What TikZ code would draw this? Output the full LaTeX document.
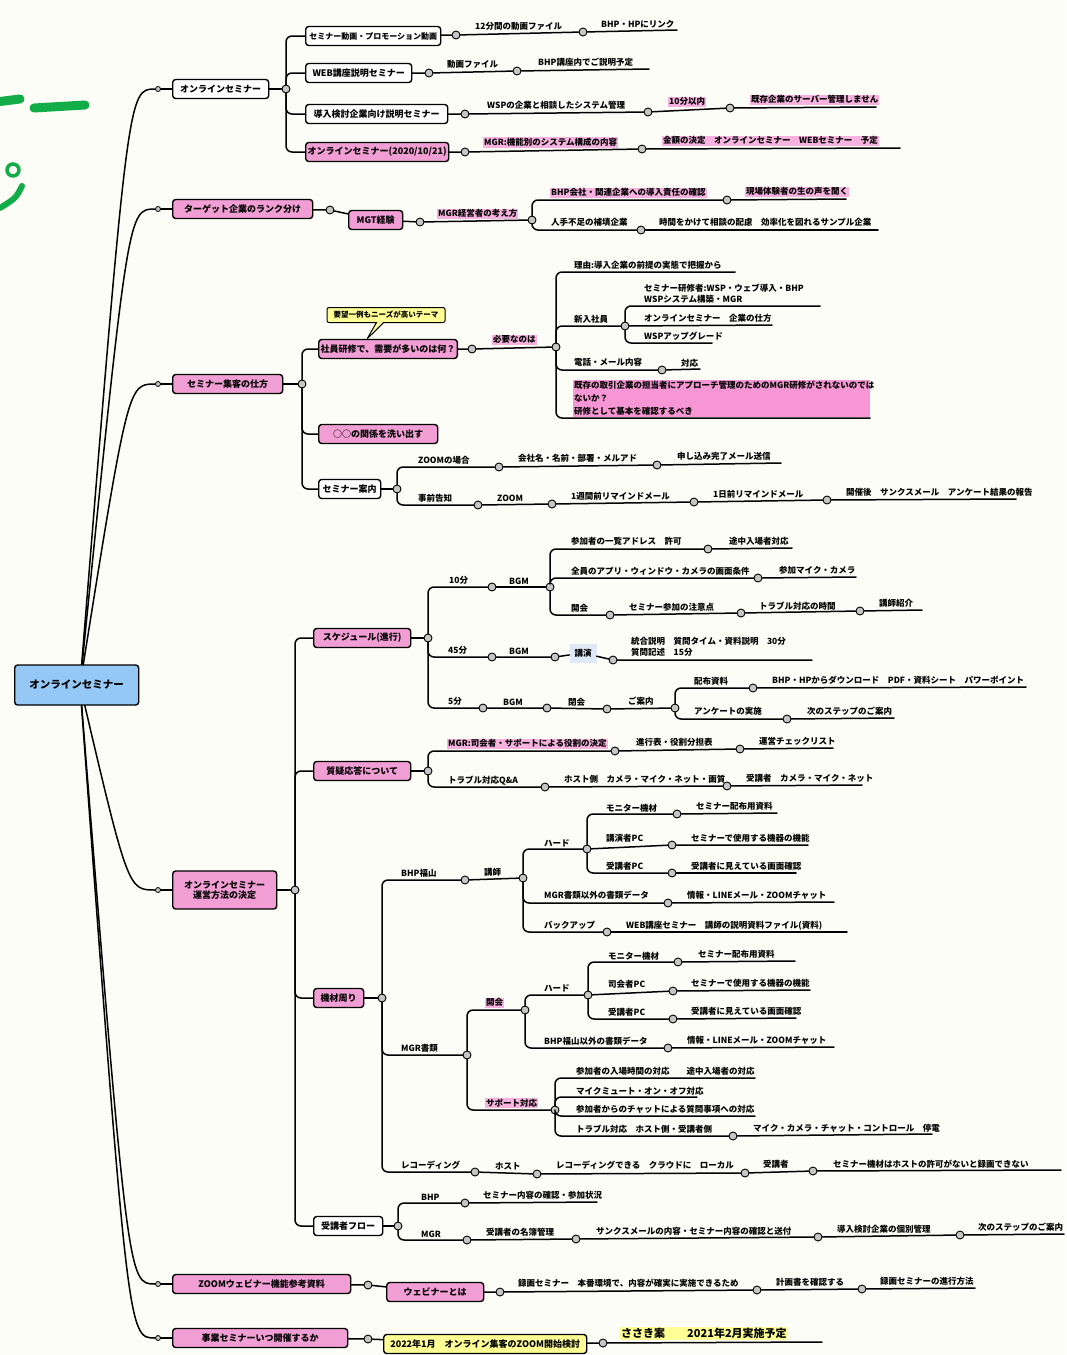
\documentclass[tikz,border=0pt]{standalone}
\usepackage{fontspec}
\setmainfont{Noto Sans CJK JP}
\usetikzlibrary{shapes.callouts}
\definecolor{paper}{RGB}{253,253,247}
\definecolor{mmpink}{RGB}{240,158,212}
\definecolor{hlpink}{RGB}{247,178,224}
\definecolor{blockpink}{RGB}{246,150,212}
\definecolor{mmblue}{RGB}{150,200,245}
\definecolor{lectblue}{RGB}{222,232,246}
\definecolor{mmyellow}{RGB}{255,255,150}
\definecolor{mmgreen}{RGB}{18,172,72}
\tikzset{
  conn/.style={line width=1.5pt, line cap=round, line join=round},
  elbow/.style={conn, rounded corners=6pt},
  mmbox/.style={draw, line width=1.4pt, rounded corners=3pt, anchor=west, minimum height=19pt, inner sep=2pt, font=\bfseries\fontsize{9}{10.5}\selectfont},
  pinkbox/.style={mmbox, fill=mmpink},
  whitebox/.style={mmbox, fill=white},
  dot/.style={circle, draw, fill=gray!45, line width=0.9pt, inner sep=0pt, minimum size=8pt},
  stub/.style={circle, draw, fill=gray!45, line width=0.8pt, inner sep=0pt, minimum size=5pt},
  leaf/.style={anchor=south west, inner sep=1pt, font=\bfseries\fontsize{8.5}{10}\selectfont},
  hl/.style={leaf, fill=hlpink}
}
\begin{document}
\begin{tikzpicture}[x=1pt, y=-1pt]
 \useasboundingbox (0,0) rectangle (1066,1355);
 \fill[paper] (0,0) rectangle (1066,1355);
 \draw[mmgreen, line width=9pt, line cap=round] (-4,102) -- (20,99);
 \draw[mmgreen, line width=9pt, line cap=round] (34,108) -- (85,105);
 \draw[mmgreen, line width=3.5pt] (13,170) circle (6pt);
 \draw[mmgreen, line width=6pt, line cap=round] (22,186) .. controls (16,198) .. (0,208);

 \coordinate (hub) at (80,685);
 \node[whitebox, minimum width=96pt] (onl) at (172,89) {オンラインセミナー};
 \node[pinkbox, minimum width=140pt] (tgt) at (172,209) {ターゲット企業のランク分け};
 \node[pinkbox, minimum width=110pt] (shk) at (172,384) {セミナー集客の仕方};
 \node[pinkbox, minimum width=104pt, minimum height=38pt, align=center] (unei) at (172,890) {オンラインセミナー\\運営方法の決定};
 \node[pinkbox, minimum width=178pt] (zoom) at (172,1284) {ZOOMウェビナー機能参考資料};
 \node[pinkbox, minimum width=175pt] (kaisai) at (172,1338) {事業セミナーいつ開催するか};
 \foreach \n/\y in {onl/89, tgt/209, shk/384, unei/890, zoom/1284, kaisai/1338} {
   \node[stub] (s\n) at (158,\y) {};
   \draw[conn] (hub) .. controls (128,\y) .. (s\n);
   \draw[conn] (s\n) -- (\n);
 }
 \node[mmbox, fill=mmblue, minimum width=124pt, minimum height=40pt, font=\bfseries\fontsize{10.5}{12}\selectfont] (root) at (14,685) {オンラインセミナー};

 \node[dot] (a0) at (286,89) {};
 \draw[conn] (onl) -- (a0);
 \node[whitebox, minimum width=135pt, font=\bfseries\fontsize{8}{9.5}\selectfont] (a1) at (305,36) {セミナー動画・プロモーション動画};
 \node[whitebox, minimum width=106pt] (a2) at (305,73) {WEB講座説明セミナー};
 \node[whitebox, minimum width=142pt] (a3) at (305,114) {導入検討企業向け説明セミナー};
 \node[pinkbox, minimum width=143pt] (a4) at (305,152) {オンラインセミナー(2020/10/21)};
 \foreach \n in {a1,a2,a3,a4} \draw[elbow] (a0) |- (\n);
 \node[dot] (a1d1) at (456,35) {};
 \node[dot] (a1d2) at (583,32) {};
 \coordinate (a1e) at (677,30);
 \draw[conn] (a1) -- (a1d1) -- (a1d2) -- (a1e);
 \node[leaf] (a1t1) at (474,32) {12分間の動画ファイル};
 \node[leaf] (a1t2) at (600,29) {BHP・HPにリンク};
 \node[dot] (a2d1) at (429,73) {};
 \node[dot] (a2d2) at (517,71) {};
 \coordinate (a2e) at (649,69);
 \draw[conn] (a2) -- (a2d1) -- (a2d2) -- (a2e);
 \node[leaf] (a2t1) at (446,70) {動画ファイル};
 \node[leaf] (a2t2) at (537,68) {BHP講座内でご説明予定};
 \node[dot] (a3d1) at (465,114) {};
 \node[dot] (a3d2) at (648,112) {};
 \node[dot] (a3d3) at (730,108) {};
 \coordinate (a3e) at (876,107);
 \draw[conn] (a3) -- (a3d1) -- (a3d2) -- (a3d3) -- (a3e);
 \node[leaf] (a3t1) at (486,111) {WSPの企業と相談したシステム管理};
 \node[hl] (a3t2) at (668,107) {10分以内};
 \node[hl] (a3t3) at (750,105) {既存企業のサーバー管理しません};
 \node[dot] (a4d1) at (465,152) {};
 \node[dot] (a4d2) at (642,149) {};
 \coordinate (a4e) at (900,148);
 \draw[conn] (a4) -- (a4d1) -- (a4d2) -- (a4e);
 \node[hl] (a4t1) at (483,148) {MGR:機能別のシステム構成の内容};
 \node[hl] (a4t2) at (662,146) {金額の決定　オンラインセミナー　WEBセミナー　予定};

 \node[dot] (b0) at (330,210) {};
 \node[pinkbox, minimum width=54pt] (mgt) at (348,220) {MGT経験};
 \node[dot] (b1) at (420,222) {};
 \node[dot] (b2) at (532,220) {};
 \draw[conn] (tgt) -- (b0) -- (mgt) -- (b1) -- (b2);
 \node[hl] (b1t) at (437,219) {MGR経営者の考え方};
 \node[dot] (b3) at (727,200) {};
 \node[dot] (b4) at (641,230) {};
 \coordinate (b3e) at (846,199);
 \coordinate (b4e) at (878,230);
 \draw[elbow] (b2) |- (b3);
 \draw[conn] (b3) -- (b3e);
 \draw[elbow] (b2) |- (b4);
 \draw[conn] (b4) -- (b4e);
 \node[hl] (b3t1) at (550,198) {BHP会社・関連企業への導入責任の確認};
 \node[hl] (b3t2) at (745,197) {現場体験者の生の声を聞く};
 \node[leaf] (b4t1) at (550,228) {人手不足の補填企業};
 \node[leaf] (b4t2) at (658,228) {時間をかけて相談の配慮　効率化を図れるサンプル企業};

 \node[dot] (c0) at (302,384) {};
 \draw[conn] (shk) -- (c0);
 \node[pinkbox, minimum width=137pt] (c1) at (318,349) {社員研修で、需要が多いのは何？};
 \node[rectangle callout, draw, fill=mmyellow, line width=1pt, rounded corners=2pt, minimum width=118pt, minimum height=15pt, inner sep=1.5pt, font=\bfseries\fontsize{7.5}{9}\selectfont, callout absolute pointer={(367,339)}] (c1n) at (386,315) {要望一例もニーズが高いテーマ};
 \node[pinkbox, minimum width=119pt] (c2) at (318,434) {○○の関係を洗い出す};
 \node[whitebox, minimum width=62pt] (c3) at (318,489) {セミナー案内};
 \foreach \n in {c1,c2,c3} \draw[elbow] (c0) |- (\n);
 \node[dot] (c1d) at (472,349) {};
 \node[dot] (c1j) at (556,347) {};
 \draw[conn] (c1) -- (c1d) -- (c1j);
 \node[hl] (c1t) at (492,345) {必要なのは};
 \coordinate (r1e) at (735,272);
 \node[dot] (r2j) at (625,326) {};
 \node[dot] (r3d) at (662,370) {};
 \coordinate (r3e) at (700,369);
 \coordinate (r4e) at (870,418);
 \draw[elbow] (c1j) |- (r1e);
 \draw[elbow] (c1j) |- (r2j);
 \draw[elbow] (c1j) |- (r3d);
 \draw[conn] (r3d) -- (r3e);
 \draw[elbow] (c1j) |- (r4e);
 \node[leaf] (r1t) at (573,271) {理由:導入企業の前提の実態で把握から};
 \node[leaf] (r2t) at (573,325) {新入社員};
 \node[leaf] (r3t1) at (573,368) {電話・メール内容};
 \node[leaf] (r3t2) at (680,368) {対応};
 \node[leaf, fill=blockpink, text width=295pt, align=left, font=\bfseries\fontsize{8.5}{13}\selectfont] (r4t) at (573,417) {既存の取引企業の担当者にアプローチ管理のためのMGR研修がされないのでは\\ないか？\\研修として基本を確認するべき};
 \coordinate (s1e) at (820,306);
 \coordinate (s2e) at (772,325);
 \coordinate (s3e) at (712,343);
 \draw[elbow] (r2j) |- (s1e);
 \draw[conn] (r2j) -- (s2e);
 \draw[elbow] (r2j) |- (s3e);
 \node[leaf, align=left, font=\bfseries\fontsize{8.5}{11}\selectfont] (s1t) at (643,305) {セミナー研修者:WSP・ウェブ導入・BHP\\ WSPシステム構築・MGR};
 \node[leaf] (s2t) at (643,324) {オンラインセミナー　企業の仕方};
 \node[leaf] (s3t) at (643,342) {WSPアップグレード};
 \node[dot] (c3j) at (397,489) {};
 \draw[conn] (c3) -- (c3j);
 \node[dot] (z1) at (499,467) {};
 \node[dot] (z2) at (657,465) {};
 \coordinate (z3) at (781,463);
 \draw[elbow] (c3j) |- (z1);
 \draw[conn] (z1) -- (z2) -- (z3);
 \node[leaf] (z1t) at (417,466) {ZOOMの場合};
 \node[leaf] (z2t) at (517,464) {会社名・名前・部署・メルアド};
 \node[leaf] (z3t) at (676,462) {申し込み完了メール送信};
 \node[dot] (m1) at (478,505) {};
 \node[dot] (m2) at (552,504) {};
 \node[dot] (m3) at (694,502) {};
 \node[dot] (m4) at (827,500) {};
 \coordinate (m5) at (1016,499);
 \draw[elbow] (c3j) |- (m1);
 \draw[conn] (m1) -- (m2) -- (m3) -- (m4) -- (m5);
 \node[leaf] (m1t) at (417,504) {事前告知};
 \node[leaf] (m2t) at (496,503) {ZOOM};
 \node[leaf] (m3t) at (570,501) {1週間前リマインドメール};
 \node[leaf] (m4t) at (712,499) {1日前リマインドメール};
 \node[leaf] (m5t) at (845,498) {開催後　サンクスメール　アンケート結果の報告};

 \node[dot] (d0) at (295,890) {};
 \draw[conn] (unei) -- (d0);
 \node[pinkbox, minimum width=97pt] (sch) at (313,638) {スケジュール(進行)};
 \node[pinkbox, minimum width=97pt] (qa) at (313,771) {質疑応答について};
 \node[pinkbox, minimum width=50pt] (kizai) at (313,998) {機材周り};
 \node[whitebox, minimum width=69pt] (flow) at (313,1226) {受講者フロー};
 \foreach \n in {sch,qa,kizai,flow} \draw[elbow] (d0) |- (\n);

 \node[dot] (k0) at (428,638) {};
 \draw[conn] (sch) -- (k0);
 \node[dot] (k1) at (492,587) {};
 \node[dot] (k2) at (550,587) {};
 \draw[elbow] (k0) |- (k1);
 \draw[conn] (k1) -- (k2);
 \node[leaf] (k1t) at (448,586) {10分};
 \node[leaf] (k2t) at (508,586) {BGM};
 \node[dot] (k3) at (708,549) {};
 \coordinate (k3e) at (792,548);
 \draw[elbow] (k2) |- (k3);
 \draw[conn] (k3) -- (k3e);
 \node[leaf] (k3t1) at (570,547) {参加者の一覧アドレス　許可};
 \node[leaf] (k3t2) at (728,547) {途中入場者対応};
 \node[dot] (k4) at (758,578) {};
 \coordinate (k4e) at (856,577);
 \draw[elbow] (k2) |- (k4);
 \draw[conn] (k4) -- (k4e);
 \node[leaf] (k4t1) at (570,577) {全員のアプリ・ウィンドウ・カメラの画面条件};
 \node[leaf] (k4t2) at (778,576) {参加マイク・カメラ};
 \node[dot] (k5) at (610,615) {};
 \node[dot] (k6) at (741,613) {};
 \node[dot] (k7) at (860,611) {};
 \coordinate (k7e) at (922,610);
 \draw[elbow] (k2) |- (k5);
 \draw[conn] (k5) -- (k6) -- (k7) -- (k7e);
 \node[leaf] (k5t) at (570,614) {開会};
 \node[leaf] (k6t) at (628,613) {セミナー参加の注意点};
 \node[leaf] (k7t1) at (758,611) {トラブル対応の時間};
 \node[leaf] (k7t2) at (878,609) {講師紹介};
 \node[dot] (k8) at (492,657) {};
 \node[dot] (k9) at (555,657) {};
 \node[fill=lectblue, inner sep=2pt, minimum width=27pt, minimum height=19pt, font=\bfseries\fontsize{8.5}{10}\selectfont] (koen) at (583,653) {講演};
 \node[dot] (k10) at (613,660) {};
 \coordinate (k10e) at (812,660);
 \draw[elbow] (k0) |- (k8);
 \draw[conn] (k8) -- (k9) -- (koen) -- (k10) -- (k10e);
 \node[leaf] (k8t) at (447,656) {45分};
 \node[leaf] (k9t) at (508,656) {BGM};
 \node[leaf, align=left, font=\bfseries\fontsize{8.5}{11}\selectfont] (k10t) at (630,658) {統合説明　質問タイム・資料説明　30分\\質問記述　15分};
 \node[dot] (k11) at (483,708) {};
 \node[dot] (k12) at (547,708) {};
 \node[dot] (k13) at (607,709) {};
 \node[dot] (k14) at (675,708) {};
 \draw[elbow] (k0) |- (k11);
 \draw[conn] (k11) -- (k12) -- (k13) -- (k14);
 \node[leaf] (k11t) at (447,707) {5分};
 \node[leaf] (k12t) at (502,707) {BGM};
 \node[leaf] (k13t) at (567,707) {閉会};
 \node[leaf] (k14t) at (627,707) {ご案内};
 \node[dot] (k15) at (753,688) {};
 \coordinate (k15e) at (1026,687);
 \node[dot] (k16) at (787,719) {};
 \coordinate (k16e) at (894,718);
 \draw[elbow] (k14) |- (k15);
 \draw[conn] (k15) -- (k15e);
 \draw[elbow] (k14) |- (k16);
 \draw[conn] (k16) -- (k16e);
 \node[leaf] (k15t1) at (693,687) {配布資料};
 \node[leaf] (k15t2) at (771,686) {BHP・HPからダウンロード　PDF・資料シート　パワーポイント};
 \node[leaf] (k16t1) at (693,717) {アンケートの実施};
 \node[leaf] (k16t2) at (806,717) {次のステップのご案内};

 \node[dot] (q0) at (428,771) {};
 \draw[conn] (qa) -- (q0);
 \node[dot] (q1) at (615,751) {};
 \node[dot] (q2) at (740,749) {};
 \coordinate (q2e) at (833,748);
 \draw[elbow] (q0) |- (q1);
 \draw[conn] (q1) -- (q2) -- (q2e);
 \node[hl] (q1t) at (447,749) {MGR:司会者・サポートによる役割の決定};
 \node[leaf] (q2t1) at (635,748) {進行表・役割分担表};
 \node[leaf] (q2t2) at (758,747) {運営チェックリスト};
 \node[dot] (q3) at (545,787) {};
 \node[dot] (q4) at (727,786) {};
 \coordinate (q4e) at (862,785);
 \draw[elbow] (q0) |- (q3);
 \draw[conn] (q3) -- (q4) -- (q4e);
 \node[leaf] (q3t) at (447,786) {トラブル対応Q\&A};
 \node[leaf] (q4t1) at (563,785) {ホスト側　カメラ・マイク・ネット・画質};
 \node[leaf] (q4t2) at (745,784) {受講者　カメラ・マイク・ネット};

 \node[dot] (g0) at (382,998) {};
 \draw[conn] (kizai) -- (g0);
 \node[dot] (g1) at (465,880) {};
 \node[dot] (g2) at (523,878) {};
 \draw[elbow] (g0) |- (g1);
 \draw[conn] (g1) -- (g2);
 \node[leaf] (g1t) at (400,879) {BHP福山};
 \node[leaf] (g2t) at (483,878) {講師};
 \node[dot] (g3) at (587,849) {};
 \draw[elbow] (g2) |- (g3);
 \node[leaf] (g3t) at (543,848) {ハード};
 \node[dot] (g4) at (677,814) {};
 \coordinate (g4e) at (777,813);
 \node[dot] (g5) at (672,845) {};
 \coordinate (g5e) at (808,845);
 \node[dot] (g6) at (672,873) {};
 \coordinate (g6e) at (796,873);
 \draw[elbow] (g3) |- (g4);
 \draw[conn] (g4) -- (g4e);
 \draw[conn] (g3) -- (g5) -- (g5e);
 \draw[elbow] (g3) |- (g6);
 \draw[conn] (g6) -- (g6e);
 \node[leaf] (g4t1) at (605,813) {モニター機材};
 \node[leaf] (g4t2) at (695,812) {セミナー配布用資料};
 \node[leaf] (g5t1) at (605,844) {講演者PC};
 \node[leaf] (g5t2) at (690,844) {セミナーで使用する機器の機能};
 \node[leaf] (g6t1) at (605,872) {受講者PC};
 \node[leaf] (g6t2) at (690,872) {受講者に見えている画面確認};
 \node[dot] (g7) at (668,903) {};
 \coordinate (g7e) at (834,902);
 \draw[elbow] (g2) |- (g7);
 \draw[conn] (g7) -- (g7e);
 \node[leaf] (g7t1) at (543,901) {MGR書類以外の書類データ};
 \node[leaf] (g7t2) at (686,901) {情報・LINEメール・ZOOMチャット};
 \node[dot] (g8) at (607,932) {};
 \coordinate (g8e) at (847,932);
 \draw[elbow] (g2) |- (g8);
 \draw[conn] (g8) -- (g8e);
 \node[leaf] (g8t1) at (543,931) {バックアップ};
 \node[leaf] (g8t2) at (625,931) {WEB講座セミナー　講師の説明資料ファイル(資料)};

 \node[dot] (h0) at (467,1055) {};
 \draw[elbow] (g0) |- (h0);
 \node[leaf] (h0t) at (400,1054) {MGR書類};
 \node[dot] (h1) at (525,1010) {};
 \draw[elbow] (h0) |- (h1);
 \node[hl] (h1t) at (485,1008) {開会};
 \node[dot] (h2) at (588,995) {};
 \draw[elbow] (h1) |- (h2);
 \node[leaf] (h2t) at (543,993) {ハード};
 \node[dot] (h3) at (678,962) {};
 \coordinate (h3e) at (795,961);
 \node[dot] (h4) at (673,991) {};
 \coordinate (h4e) at (810,990);
 \node[dot] (h5) at (673,1019) {};
 \coordinate (h5e) at (796,1018);
 \draw[elbow] (h2) |- (h3);
 \draw[conn] (h3) -- (h3e);
 \draw[conn] (h2) -- (h4) -- (h4e);
 \draw[elbow] (h2) |- (h5);
 \draw[conn] (h5) -- (h5e);
 \node[leaf] (h3t1) at (607,961) {モニター機材};
 \node[leaf] (h3t2) at (697,960) {セミナー配布用資料};
 \node[leaf] (h4t1) at (607,990) {司会者PC};
 \node[leaf] (h4t2) at (690,989) {セミナーで使用する機器の機能};
 \node[leaf] (h5t1) at (607,1018) {受講者PC};
 \node[leaf] (h5t2) at (690,1017) {受講者に見えている画面確認};
 \node[dot] (h6) at (668,1048) {};
 \coordinate (h6e) at (834,1047);
 \draw[elbow] (h1) |- (h6);
 \draw[conn] (h6) -- (h6e);
 \node[leaf] (h6t1) at (543,1047) {BHP福山以外の書類データ};
 \node[leaf] (h6t2) at (686,1046) {情報・LINEメール・ZOOMチャット};
 \node[dot] (h7) at (555,1110) {};
 \draw[elbow] (h0) |- (h7);
 \node[hl] (h7t) at (485,1108) {サポート対応};
 \coordinate (h8e) at (755,1078);
 \coordinate (h9e) at (697,1097);
 \coordinate (h10e) at (755,1116);
 \node[dot] (h11) at (733,1136) {};
 \coordinate (h11e) at (932,1134);
 \draw[elbow] (h7) |- (h8e);
 \draw[elbow] (h7) |- (h9e);
 \draw[elbow] (h7) |- (h10e);
 \draw[elbow] (h7) |- (h11);
 \draw[conn] (h11) -- (h11e);
 \node[leaf] (h8t) at (575,1077) {参加者の入場時間の対応　　途中入場者の対応};
 \node[leaf] (h9t) at (575,1096) {マイクミュート・オン・オフ対応};
 \node[leaf] (h10t) at (575,1115) {参加者からのチャットによる質問事項への対応};
 \node[leaf] (h11t1) at (575,1135) {トラブル対応　ホスト側・受講者側};
 \node[leaf] (h11t2) at (752,1134) {マイク・カメラ・チャット・コントロール　停電};
 \node[dot] (j1) at (475,1172) {};
 \node[dot] (j2) at (537,1174) {};
 \node[dot] (j3) at (745,1173) {};
 \node[dot] (j4) at (813,1171) {};
 \coordinate (j4e) at (1061,1170);
 \draw[elbow] (g0) |- (j1);
 \draw[conn] (j1) -- (j2) -- (j3) -- (j4) -- (j4e);
 \node[leaf] (j1t) at (400,1171) {レコーディング};
 \node[leaf] (j2t) at (494,1171) {ホスト};
 \node[leaf] (j3t) at (555,1171) {レコーディングできる　クラウドに　ローカル};
 \node[leaf] (j4t1) at (762,1170) {受講者};
 \node[leaf] (j4t2) at (832,1169) {セミナー機材はホストの許可がないと録画できない};

 \node[dot] (f0) at (398,1226) {};
 \draw[conn] (flow) -- (f0);
 \node[dot] (f1) at (465,1203) {};
 \coordinate (f1e) at (597,1202);
 \draw[elbow] (f0) |- (f1);
 \draw[conn] (f1) -- (f1e);
 \node[leaf] (f1t1) at (420,1202) {BHP};
 \node[leaf] (f1t2) at (482,1201) {セミナー内容の確認・参加状況};
 \node[dot] (f2) at (467,1240) {};
 \node[dot] (f3) at (576,1239) {};
 \node[dot] (f4) at (818,1237) {};
 \node[dot] (f5) at (960,1235) {};
 \coordinate (f5e) at (1064,1234);
 \draw[elbow] (f0) |- (f2);
 \draw[conn] (f2) -- (f3) -- (f4) -- (f5) -- (f5e);
 \node[leaf] (f2t) at (420,1239) {MGR};
 \node[leaf] (f3t) at (485,1238) {受講者の名簿管理};
 \node[leaf] (f4t) at (595,1237) {サンクスメールの内容・セミナー内容の確認と送付};
 \node[leaf] (f5t) at (836,1235) {導入検討企業の個別管理};
 \node[leaf] (f6t) at (977,1233) {次のステップのご案内};

 \node[dot] (e0) at (368,1285) {};
 \node[pinkbox, minimum width=97pt] (webi) at (386,1292) {ウェビナーとは};
 \node[dot] (e1) at (500,1292) {};
 \node[dot] (e2) at (757,1290) {};
 \node[dot] (e3) at (862,1289) {};
 \coordinate (e3e) at (975,1288);
 \draw[conn] (zoom) -- (e0) -- (webi) -- (e1) -- (e2) -- (e3) -- (e3e);
 \node[leaf] (e1t) at (517,1289) {録画セミナー　本番環境で、内容が確実に実施できるため};
 \node[leaf] (e2t) at (775,1288) {計画書を確認する};
 \node[leaf] (e3t) at (879,1287) {録画セミナーの進行方法};

 \node[dot] (w0) at (368,1339) {};
 \node[mmbox, fill=mmyellow, minimum width=203pt] (plan) at (383,1344) {2022年1月　オンライン集客のZOOM開始検討};
 \node[dot] (w1) at (603,1343) {};
 \coordinate (w1e) at (822,1342);
 \draw[conn] (kaisai) -- (w0) -- (plan) -- (w1) -- (w1e);
 \node[leaf, fill=mmyellow, font=\bfseries\fontsize{11}{13}\selectfont] (w1t) at (620,1340) {ささき案　　2021年2月実施予定};
\end{tikzpicture}
\end{document}
